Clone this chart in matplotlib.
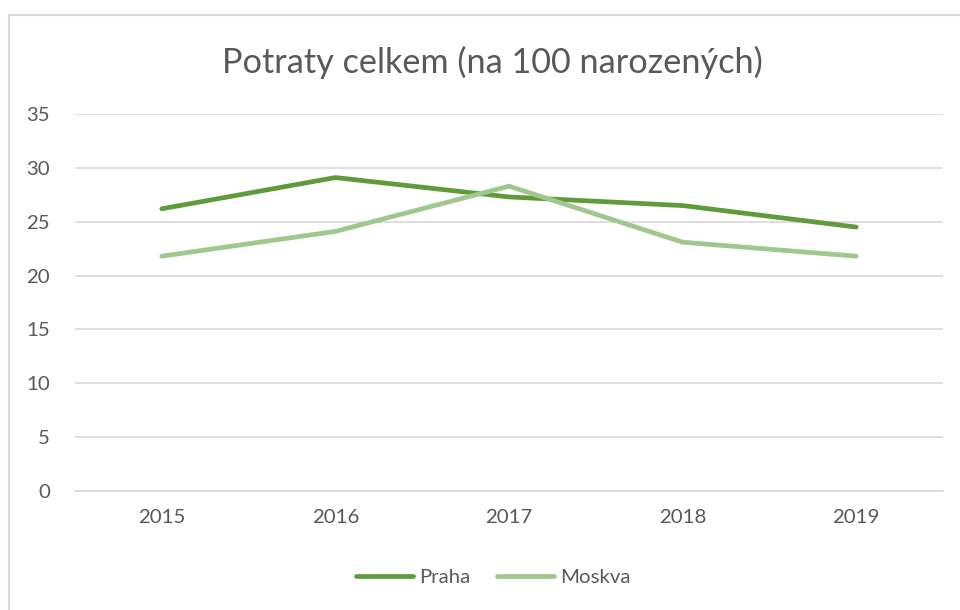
import matplotlib
matplotlib.use("Agg")
import matplotlib.pyplot as plt
from matplotlib.patches import Rectangle

years = ["2015", "2016", "2017", "2018", "2019"]
praha = [26.2, 29.1, 27.3, 26.5, 24.5]
moskva = [21.8, 24.1, 28.3, 23.1, 21.8]
yticks = [0, 5, 10, 15, 20, 25, 30, 35]
title = "Potraty celkem (na 100 narozených)"

plt.rcParams['font.family'] = ['Lato', 'DejaVu Sans']
W, H = 960, 610
fig = plt.figure(figsize=(W/100, H/100), dpi=100)
fig.patch.set_facecolor('white')

# outer chart border (only top and left visible)
fig.add_artist(Rectangle((8.5/W, -0.1), 1.2, 1 - 14.5/H + 0.1, transform=fig.transFigure,
                         fill=False, edgecolor='#d9d9d9', linewidth=1.5))

ax = fig.add_axes([75/W, 1 - 491/H, (943-75)/W, (491-114)/H])
x = list(range(len(years)))
ax.plot(x, praha, color='#5f9b3b', linewidth=3.4, solid_capstyle='round', solid_joinstyle='round', label='Praha', zorder=3)
ax.plot(x, moskva, color='#a0c78c', linewidth=3.4, solid_capstyle='round', solid_joinstyle='round', label='Moskva', zorder=3)

ax.set_xlim(-0.5, len(years) - 0.5)
ax.set_ylim(0, 35)
ax.set_yticks(yticks)
ax.set_xticks(x)
ax.set_xticklabels(years)
for s in ['top', 'right', 'left']:
    ax.spines[s].set_visible(False)
ax.spines['bottom'].set_color('#d9d9d9')
ax.spines['bottom'].set_linewidth(1.2)
ax.grid(axis='y', color='#d9d9d9', linewidth=1.2)
ax.set_axisbelow(True)
ax.tick_params(axis='both', length=0, colors='#595959', labelsize=14.7)
ax.tick_params(axis='y', pad=18)
ax.tick_params(axis='x', pad=13)

fig.text(492/W, 1 - 62/H, title, ha='center', va='center', fontsize=24.7, color='#595959')

leg = fig.legend(loc='center', bbox_to_anchor=(493/W, 1 - 577/H), ncol=2, frameon=False,
                 fontsize=14.7, handlelength=2.8, handletextpad=0.3, columnspacing=1.3)
for t in leg.get_texts():
    t.set_color('#595959')

fig.savefig('out.png', dpi=100, facecolor='white')
